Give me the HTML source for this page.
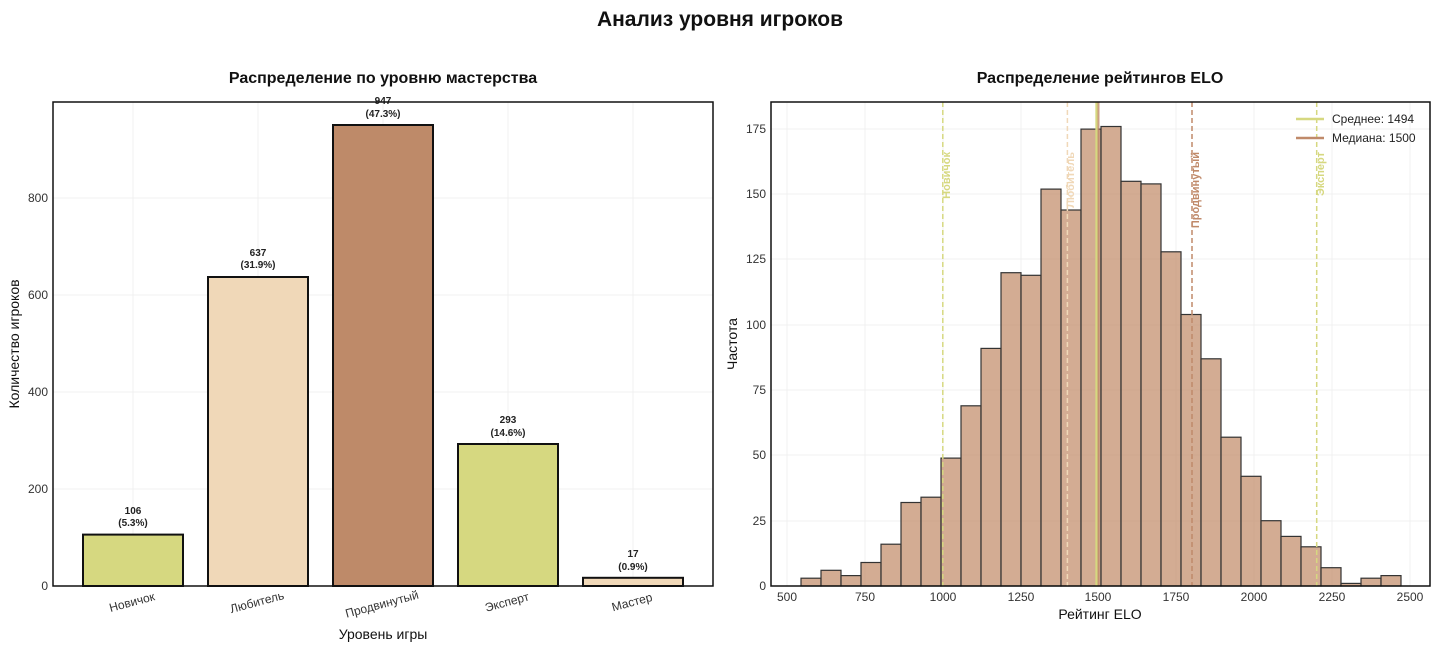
<!DOCTYPE html>
<html><head><meta charset="utf-8"><style>
body{margin:0;background:#fff;}
svg text{font-family:"Liberation Sans",sans-serif;}
</style></head><body>
<svg width="1440" height="651" xmlns="http://www.w3.org/2000/svg">
<rect width="1440" height="651" fill="#fff"/>
<text x="720" y="26" font-size="21" font-weight="bold" text-anchor="middle" fill="#111">Анализ уровня игроков</text>
<!-- LEFT -->
<text x="383" y="83" font-size="16" font-weight="bold" text-anchor="middle" fill="#111">Распределение по уровню мастерства</text>
<g stroke="#f0f0f0" stroke-width="1">
<line x1="53" x2="713" y1="489" y2="489"/><line x1="53" x2="713" y1="392" y2="392"/><line x1="53" x2="713" y1="295" y2="295"/><line x1="53" x2="713" y1="198" y2="198"/>
<line x1="133" x2="133" y1="102" y2="586"/><line x1="258" x2="258" y1="102" y2="586"/><line x1="383" x2="383" y1="102" y2="586"/><line x1="508" x2="508" y1="102" y2="586"/><line x1="633" x2="633" y1="102" y2="586"/>
</g>
<g stroke="#111" stroke-width="2">
<rect x="83" y="534.6" width="100" height="51.4" fill="#d6d880"/>
<rect x="208" y="277" width="100" height="309" fill="#f0d8b8"/>
<rect x="333" y="125" width="100" height="461" fill="#be8a69"/>
<rect x="458" y="444" width="100" height="142" fill="#d6d880"/>
<rect x="583" y="577.8" width="100" height="8.2" fill="#f0d8b8"/>
</g>
<g font-size="10" font-weight="bold" text-anchor="middle" fill="#222">
<text x="133" y="514">106</text><text x="133" y="526">(5.3%)</text>
<text x="258" y="256">637</text><text x="258" y="268">(31.9%)</text>
<text x="383" y="104">947</text><text x="383" y="117">(47.3%)</text>
<text x="508" y="423">293</text><text x="508" y="436">(14.6%)</text>
<text x="633" y="557">17</text><text x="633" y="570">(0.9%)</text>
</g>
<rect x="53" y="102" width="660" height="484" fill="none" stroke="#111" stroke-width="1.5"/>
<g font-size="12" text-anchor="end" fill="#333">
<text x="48" y="590">0</text><text x="48" y="493">200</text><text x="48" y="396">400</text><text x="48" y="299">600</text><text x="48" y="202">800</text>
</g>
<g font-size="12" fill="#333" text-anchor="middle">
<text transform="translate(133,606) rotate(-15)">Новичок</text>
<text transform="translate(258,606) rotate(-15)">Любитель</text>
<text transform="translate(383,608) rotate(-15)">Продвинутый</text>
<text transform="translate(508,606) rotate(-15)">Эксперт</text>
<text transform="translate(633,606) rotate(-15)">Мастер</text>
</g>
<text x="383" y="639" font-size="14" text-anchor="middle" fill="#111">Уровень игры</text>
<text transform="translate(19,344) rotate(-90)" font-size="14" text-anchor="middle" fill="#111">Количество игроков</text>
<!-- RIGHT -->
<text x="1100" y="83" font-size="16" font-weight="bold" text-anchor="middle" fill="#111">Распределение рейтингов ELO</text>
<g stroke="#f0f0f0" stroke-width="1">
<line x1="771" x2="1430" y1="521" y2="521"/><line x1="771" x2="1430" y1="455" y2="455"/><line x1="771" x2="1430" y1="390" y2="390"/><line x1="771" x2="1430" y1="325" y2="325"/><line x1="771" x2="1430" y1="259" y2="259"/><line x1="771" x2="1430" y1="194" y2="194"/><line x1="771" x2="1430" y1="129" y2="129"/>
<line x1="787" x2="787" y1="102" y2="586"/><line x1="865" x2="865" y1="102" y2="586"/><line x1="943" x2="943" y1="102" y2="586"/><line x1="1021" x2="1021" y1="102" y2="586"/><line x1="1098" x2="1098" y1="102" y2="586"/><line x1="1176" x2="1176" y1="102" y2="586"/><line x1="1254" x2="1254" y1="102" y2="586"/><line x1="1332" x2="1332" y1="102" y2="586"/><line x1="1410" x2="1410" y1="102" y2="586"/>
</g>
<g fill="#c4906f" fill-opacity="0.75" stroke="#333" stroke-width="1.2">
<rect x="801" y="578.2" width="20" height="7.8"/>
<rect x="821" y="570.3" width="20" height="15.7"/>
<rect x="841" y="575.6" width="20" height="10.4"/>
<rect x="861" y="562.5" width="20" height="23.5"/>
<rect x="881" y="544.2" width="20" height="41.8"/>
<rect x="901" y="502.5" width="20" height="83.5"/>
<rect x="921" y="497.2" width="20" height="88.8"/>
<rect x="941" y="458.1" width="20" height="127.9"/>
<rect x="961" y="405.8" width="20" height="180.2"/>
<rect x="981" y="348.4" width="20" height="237.6"/>
<rect x="1001" y="272.7" width="20" height="313.3"/>
<rect x="1021" y="275.3" width="20" height="310.7"/>
<rect x="1041" y="189.1" width="20" height="396.9"/>
<rect x="1061" y="210" width="20" height="376"/>
<rect x="1081" y="129.1" width="20" height="456.9"/>
<rect x="1101" y="126.5" width="20" height="459.5"/>
<rect x="1121" y="181.3" width="20" height="404.7"/>
<rect x="1141" y="183.9" width="20" height="402.1"/>
<rect x="1161" y="251.8" width="20" height="334.2"/>
<rect x="1181" y="314.5" width="20" height="271.5"/>
<rect x="1201" y="358.8" width="20" height="227.2"/>
<rect x="1221" y="437.2" width="20" height="148.8"/>
<rect x="1241" y="476.3" width="20" height="109.7"/>
<rect x="1261" y="520.7" width="20" height="65.3"/>
<rect x="1281" y="536.4" width="20" height="49.6"/>
<rect x="1301" y="546.8" width="20" height="39.2"/>
<rect x="1321" y="567.7" width="20" height="18.3"/>
<rect x="1341" y="583.4" width="20" height="2.6"/>
<rect x="1361" y="578.2" width="20" height="7.8"/>
<rect x="1381" y="575.6" width="20" height="10.4"/>
</g>
<g stroke-width="1.5" stroke-dasharray="5,3" fill="none">
<line x1="942.8" x2="942.8" y1="102" y2="586" stroke="#d6d880"/>
<line x1="1067.4" x2="1067.4" y1="102" y2="586" stroke="#f0d8b8"/>
<line x1="1192" x2="1192" y1="102" y2="586" stroke="#c08a6a"/>
<line x1="1316.7" x2="1316.7" y1="102" y2="586" stroke="#d6d880"/>
</g>
<line x1="1096.6" x2="1096.6" y1="102" y2="586" stroke="#d6d880" stroke-width="2.5"/>
<line x1="1098.5" x2="1098.5" y1="102" y2="586" stroke="#c08a6a" stroke-width="2" opacity="0.8"/>
<g font-size="11" font-weight="bold" text-anchor="end">
<text transform="translate(950,152) rotate(-90)" fill="#d6d880">Новичок</text>
<text transform="translate(1074,152) rotate(-90)" fill="#f0d8b8">Любитель</text>
<text transform="translate(1199,152) rotate(-90)" fill="#c08a6a">Продвинутый</text>
<text transform="translate(1324,152) rotate(-90)" fill="#d6d880">Эксперт</text>
</g>
<line x1="1296" x2="1324" y1="119" y2="119" stroke="#d6d880" stroke-width="2.5"/>
<line x1="1296" x2="1324" y1="138" y2="138" stroke="#c08a6a" stroke-width="2.5"/>
<g font-size="12" fill="#222"><text x="1332" y="123">Среднее: 1494</text><text x="1332" y="142">Медиана: 1500</text></g>
<rect x="771" y="102" width="659" height="484" fill="none" stroke="#111" stroke-width="1.5"/>
<g font-size="12" text-anchor="end" fill="#333">
<text x="766" y="590">0</text><text x="766" y="525">25</text><text x="766" y="459">50</text><text x="766" y="394">75</text><text x="766" y="329">100</text><text x="766" y="263">125</text><text x="766" y="198">150</text><text x="766" y="133">175</text>
</g>
<g font-size="12" text-anchor="middle" fill="#333">
<text x="787" y="601">500</text><text x="865" y="601">750</text><text x="943" y="601">1000</text><text x="1021" y="601">1250</text><text x="1098" y="601">1500</text><text x="1176" y="601">1750</text><text x="1254" y="601">2000</text><text x="1332" y="601">2250</text><text x="1410" y="601">2500</text>
</g>
<text x="1100" y="619" font-size="14" text-anchor="middle" fill="#111">Рейтинг ELO</text>
<text transform="translate(737,344) rotate(-90)" font-size="14" text-anchor="middle" fill="#111">Частота</text>
</svg>
</body></html>
